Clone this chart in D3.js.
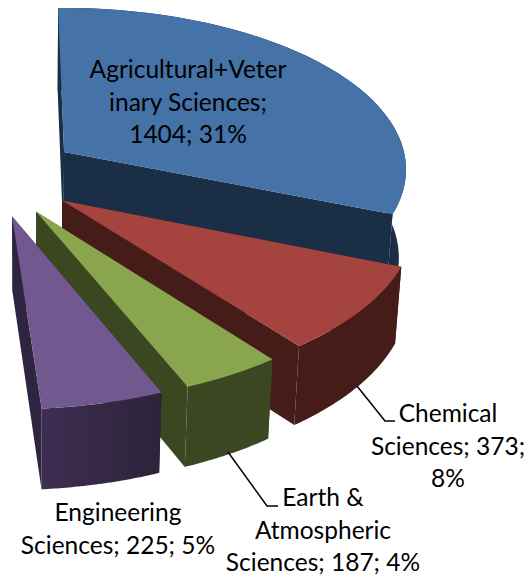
<!DOCTYPE html>
<html>
<head>
<meta charset="utf-8">
<script src="https://cdn.jsdelivr.net/npm/d3@7"></script>
<style>
  body { margin: 0; background: #fff; }
  svg { display: block; }
  text { font-family: Lato, sans-serif; font-size: 24.5px; fill: #000; }
</style>
</head>
<body>
<div id="chart"></div>
<script>
// 3D exploded pie, only part of the pie is shown
var categories = ["Agricultural+Veterinary Sciences", "Chemical Sciences", "Earth & Atmospheric Sciences", "Engineering Sciences"];
var values = [1404, 373, 187, 225];
var hiddenRest = [2290]; // rest of the circle, not drawn in the picture
var topColors = ["#4572a7", "#a5433f", "#89a54e", "#71588f"];
var sideColors = ["#1a2e46", "#461c19", "#3a4720", "#2f2540"];

var labelLines = [
  ["Agricultural+Veter", "inary Sciences;", "1404; 31%"],
  ["Chemical", "Sciences; 373;", "8%"],
  ["Earth &", "Atmospheric", "Sciences; 187; 4%"],
  ["Engineering", "Sciences; 225; 5%"]
];
var labelX = [188, 448, 323, 118];
var labelY = [78, 422, 506, 521];
var leaders = [null, [[357, 386], [385, 421], [395, 421]], [[228, 452], [267, 506], [278, 506]], null];

var width = 525, height = 576;

// camera, fitted by eye: top plane homography plus a vertical vanishing point
var cam = { S: 345, g: 0.104, k: 0.0163, x0: 40, yh: -1398, cx: -8, cy: 175, vpx: 32, vpy: 4800 };
var explode = 0.254;
var startRot = -0.012;
var wallDepth = [1.2, 1, 1, 1]; // the blue wall runs deeper behind the red slice

function project(X, Y, Z) {
  var w = 1 - cam.g * Y + cam.k * Z;
  return [
    (cam.S * X - cam.g * cam.x0 * Y + cam.cx + cam.k * Z * cam.vpx) / w,
    (-cam.g * cam.yh * Y + cam.cy + cam.k * Z * cam.vpy) / w
  ];
}

var pie = d3.pie().sort(null).value(d => d)
  .startAngle(startRot).endAngle(startRot + 2 * Math.PI);
var arcs = pie(values.concat(hiddenRest)).slice(0, values.length);

var line = d3.line();

var svg = d3.select("#chart").append("svg")
  .attr("width", width)
  .attr("height", height)
  .attr("viewBox", [0, 0, width, height]);

var defs = svg.append("defs");
var purple = defs.append("linearGradient").attr("id", "purpleSide");
purple.append("stop").attr("offset", "0%").attr("stop-color", "#3f2e53");
purple.append("stop").attr("offset", "100%").attr("stop-color", "#2c2339");

var slices = svg.selectAll("g.slice")
  .data(arcs)
  .join("g")
    .attr("class", "slice");

slices.each(function(d, i) {
  var g = d3.select(this);
  var mid = (d.startAngle + d.endAngle) / 2;
  var ox = explode * Math.sin(mid), oy = -explode * Math.cos(mid);
  var pt = (a, r, z) => project(ox + r * Math.sin(a), oy - r * Math.cos(a), z);
  var z = wallDepth[i];

  var steps = d3.range(0, 41).map(t => d.startAngle + (d.endAngle - d.startAngle) * t / 40);
  var rimTop = steps.map(a => pt(a, 1, 0));
  var rimBottom = steps.map(a => pt(a, 1, z)).reverse();

  // radial faces first, then the outer wall, then the top
  [d.startAngle, d.endAngle].forEach(a => {
    g.append("path")
      .attr("d", line([pt(a, 0, 0), pt(a, 1, 0), pt(a, 1, z), pt(a, 0, z)]) + "Z")
      .attr("fill", sideColors[i]);
  });
  g.append("path")
    .attr("d", line(rimTop.concat(rimBottom)) + "Z")
    .attr("fill", i === 3 ? "url(#purpleSide)" : sideColors[i]);
  g.append("path")
    .attr("d", line([pt(0, 0, 0)].concat(rimTop)) + "Z")
    .attr("fill", topColors[i]);
});

// leader lines
svg.selectAll("path.leader")
  .data(leaders.filter(d => d))
  .join("path")
    .attr("class", "leader")
    .attr("d", d => line(d))
    .attr("fill", "none")
    .attr("stroke", "#000")
    .attr("stroke-width", 1.5);

// labels
labelLines.forEach((lines, i) => {
  svg.append("text")
    .attr("text-anchor", "middle")
    .selectAll("tspan")
    .data(lines)
    .join("tspan")
      .attr("x", labelX[i])
      .attr("y", (d, j) => labelY[i] + j * 32.5)
      .text(d => d);
});
</script>
</body>
</html>
